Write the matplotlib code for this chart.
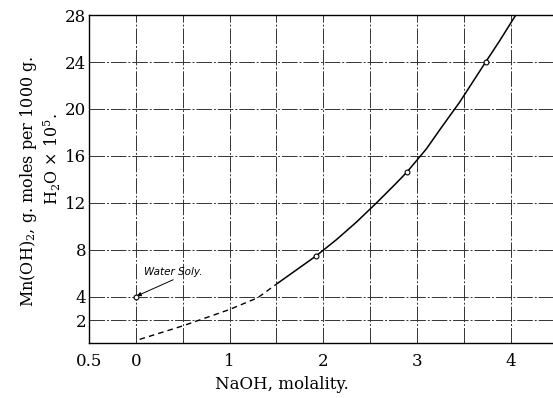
import matplotlib.pyplot as plt

plt.rcParams["font.family"] = "DejaVu Serif"
plt.rcParams["mathtext.fontset"] = "dejavuserif"

# measured points (open circles)
point_x = [0.0, 1.925, 2.893, 3.734]
point_y = [4.0, 7.48, 14.63, 24.03]

# extrapolated (dashed) part of the curve
dash_x = [0.04, 0.5, 1.0, 1.3, 1.515]
dash_y = [0.35, 1.5, 2.9, 3.9, 5.15]

curve_x = [1.515, 1.925, 2.139, 2.353, 2.566, 2.78, 2.893, 3.10, 3.24, 3.456, 3.734, 3.88, 4.06, 4.15]
curve_y = [5.15, 7.48, 8.85, 10.35, 11.98, 13.69, 14.63, 16.6, 18.2, 20.6, 24.03, 25.8, 28.1, 29.3]

x_ticks = [-0.5, 0, 1, 2, 3, 4]
x_tick_labels = ["0.5", "0", "1", "2", "3", "4"]
y_ticks = [2, 4, 8, 12, 16, 20, 24, 28]
x_grid = [0, 0.5, 1, 1.5, 2, 2.5, 3, 3.5, 4]
y_grid = [2, 4, 8, 12, 16, 20, 24, 28]


def main() -> None:
    fig = plt.figure(figsize=(5.53, 3.98), dpi=100)
    ax = fig.add_axes([0.161, 0.137, 0.839, 0.825])

    grid_style = {"color": "#333333", "linewidth": 0.7, "dashes": (16, 2, 2, 2), "zorder": 1}
    for gx in x_grid:
        ax.axvline(gx, **grid_style)
    for gy in y_grid:
        ax.axhline(gy, **grid_style)

    ax.plot(dash_x, dash_y, color="black", linewidth=1.0, dashes=(4, 3), zorder=3)
    ax.plot(curve_x, curve_y, color="black", linewidth=1.1, zorder=3)
    ax.plot(point_x, point_y, "o", markersize=3.5, markerfacecolor="white",
            markeredgecolor="black", markeredgewidth=0.8, zorder=4)

    ax.annotate("Water Soly.", xy=(0.01, 4.05), xytext=(0.09, 6.1),
                fontsize=7.5, family="DejaVu Sans", style="italic",
                ha="left", va="center",
                arrowprops={"arrowstyle": "-|>", "color": "black", "lw": 0.7,
                            "mutation_scale": 6, "shrinkA": 0, "shrinkB": 0,
                            "relpos": (0.6, 0.0)})

    ax.set_xlim(-0.5, 4.45)
    ax.set_ylim(0, 28)
    ax.set_xticks(x_ticks)
    ax.set_xticklabels(x_tick_labels)
    ax.set_yticks(y_ticks)
    ax.tick_params(axis="y", length=0, labelsize=12, pad=2)
    ax.tick_params(axis="x", length=0, labelsize=12, pad=7)
    for side in ["left", "bottom", "top"]:
        ax.spines[side].set_linewidth(1.0)
    ax.spines["right"].set_visible(False)

    fig.text(0.51, 0.033, "NaOH, molality.", ha="center", va="center", fontsize=12)
    fig.text(0.052, 0.545, r"Mn(OH)$_2$, g. moles per 1000 g.", rotation=90,
             ha="center", va="center", fontsize=11.5)
    fig.text(0.094, 0.6, r"H$_2$O $\times$ 10$^5$.", rotation=90,
             ha="center", va="center", fontsize=11.5)

    fig.savefig("out.png", dpi=100)


if __name__ == "__main__":
    main()
